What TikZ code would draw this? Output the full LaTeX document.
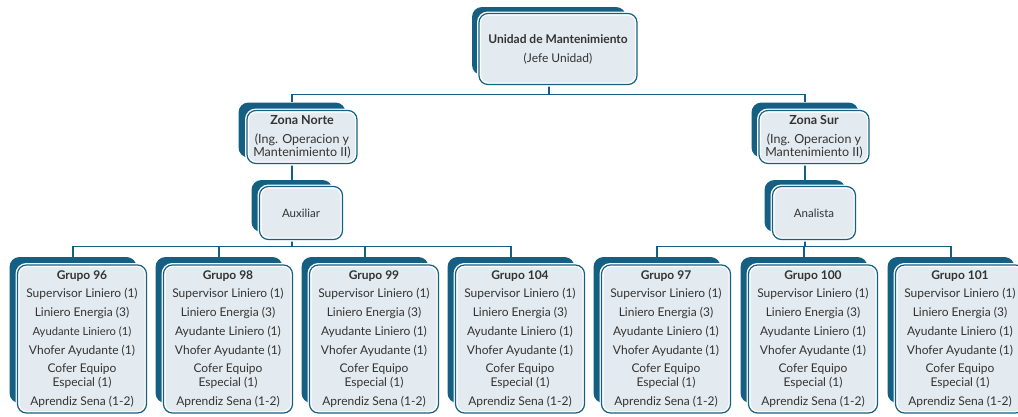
\documentclass[tikz,border=0pt]{standalone}
\usepackage{fontspec}
\setmainfont{Lato}
\usetikzlibrary{backgrounds}
\definecolor{unitteal}{HTML}{156082}
\definecolor{unitfill}{HTML}{E4EBF0}
\definecolor{unittext}{HTML}{333333}
\tikzset{
  backbox/.style={fill=unitteal, rounded corners=10pt, inner sep=0pt},
  frontbox/.style={preaction={fill=unitfill}, preaction={draw=white, line width=4pt},
    draw=unitteal, line width=1.2pt, rounded corners=9pt, inner sep=0pt,
    align=center, text=unittext, font=\fontsize{11.5}{14}\selectfont},
  link/.style={draw=unitteal, line width=1.3pt},
}
\begin{document}
\begin{tikzpicture}
    [
      x=1pt, y=-1pt,
    ]
    \useasboundingbox (0,0) rectangle (1018,416);
    %
    % top
    \node [backbox, minimum width=154, minimum height=68] (unidadb) at (549,41) {};
    \node [frontbox, minimum width=158, minimum height=71, font=\fontsize{12}{13}\selectfont] (unidad) at (558,49)
      {\textbf{Unidad de Mantenimiento}\\[6pt](Jefe Unidad)};

    % zones
    \node [backbox, minimum width=107, minimum height=55] (norteb) at (292,130) {};
    \node [frontbox, minimum width=110, minimum height=53, font=\fontsize{12.5}{13.5}\selectfont] (norte) at (302,137)
      {\textbf{Zona Norte}\\[5pt](Ing. Operacion y\\Mantenimiento II)};
    \node [backbox, minimum width=107, minimum height=55] (surb) at (805,130) {};
    \node [frontbox, minimum width=110, minimum height=53, font=\fontsize{12.5}{13.5}\selectfont] (sur) at (814,137)
      {\textbf{Zona Sur}\\[5pt](Ing. Operacion y\\Mantenimiento II)};

    \node [backbox, minimum width=81, minimum height=52] (auxiliarb) at (292,206) {};
    \node [frontbox, minimum width=83, minimum height=53] (auxiliar) at (301,213) {Auxiliar};
    \node [backbox, minimum width=81, minimum height=52] (analistab) at (805,206) {};
    \node [frontbox, minimum width=83, minimum height=53] (analista) at (814,213) {Analista};

    % groups
    \foreach \x/\n in {73/96, 219/98, 365/99, 511/104, 657/97, 804/100, 951/101} {
      \node [backbox, minimum width=127, minimum height=146] (b\n) at (\x,330) {};
      \node [frontbox, minimum width=129, minimum height=148, font=\fontsize{12}{14}\selectfont] (g\n) at (\x+9,339)
        {\textbf{Grupo \n}\\[4.7pt]
         Supervisor Liniero (1)\\[4.7pt]
         Liniero Energia (3)\\[4.7pt]
         \ifnum\n=96 {\fontsize{11.2}{14}\selectfont Ayudante Liniero (1)}\else Ayudante Liniero (1)\fi\\[4.7pt]
         Vhofer Ayudante (1)\\[4.7pt]
         Cofer Equipo\\Especial (1)\\[4.7pt]
         Aprendiz Sena (1-2)};
    }

    % connectors
    \begin{scope}[on background layer]
      \draw [link] (norteb.north) -- ++(0,-8) coordinate (zbus) -| (surb.north);
      \draw [link] (unidadb.south) -- (unidadb.south |- zbus);
      \draw [link] (norteb.south) -- (auxiliarb.north);
      \draw [link] (surb.south) -- (analistab.north);

      \draw [link] (b96.north) -- ++(0,-10) coordinate (lbus) -| (b104.north);
      \draw [link] (auxiliarb.south) -- (auxiliarb.south |- lbus);
      \draw [link] (b97.north) -- ++(0,-10) coordinate (rbus) -| (b101.north);
      \draw [link] (analistab.south) -- (analistab.south |- rbus);
      \foreach \n in {98, 99} {
        \draw [link] (b\n.north) -- (b\n.north |- lbus);
      }
      \draw [link] (b100.north) -- (b100.north |- rbus);
    \end{scope}
  \end{tikzpicture}
\end{document}
